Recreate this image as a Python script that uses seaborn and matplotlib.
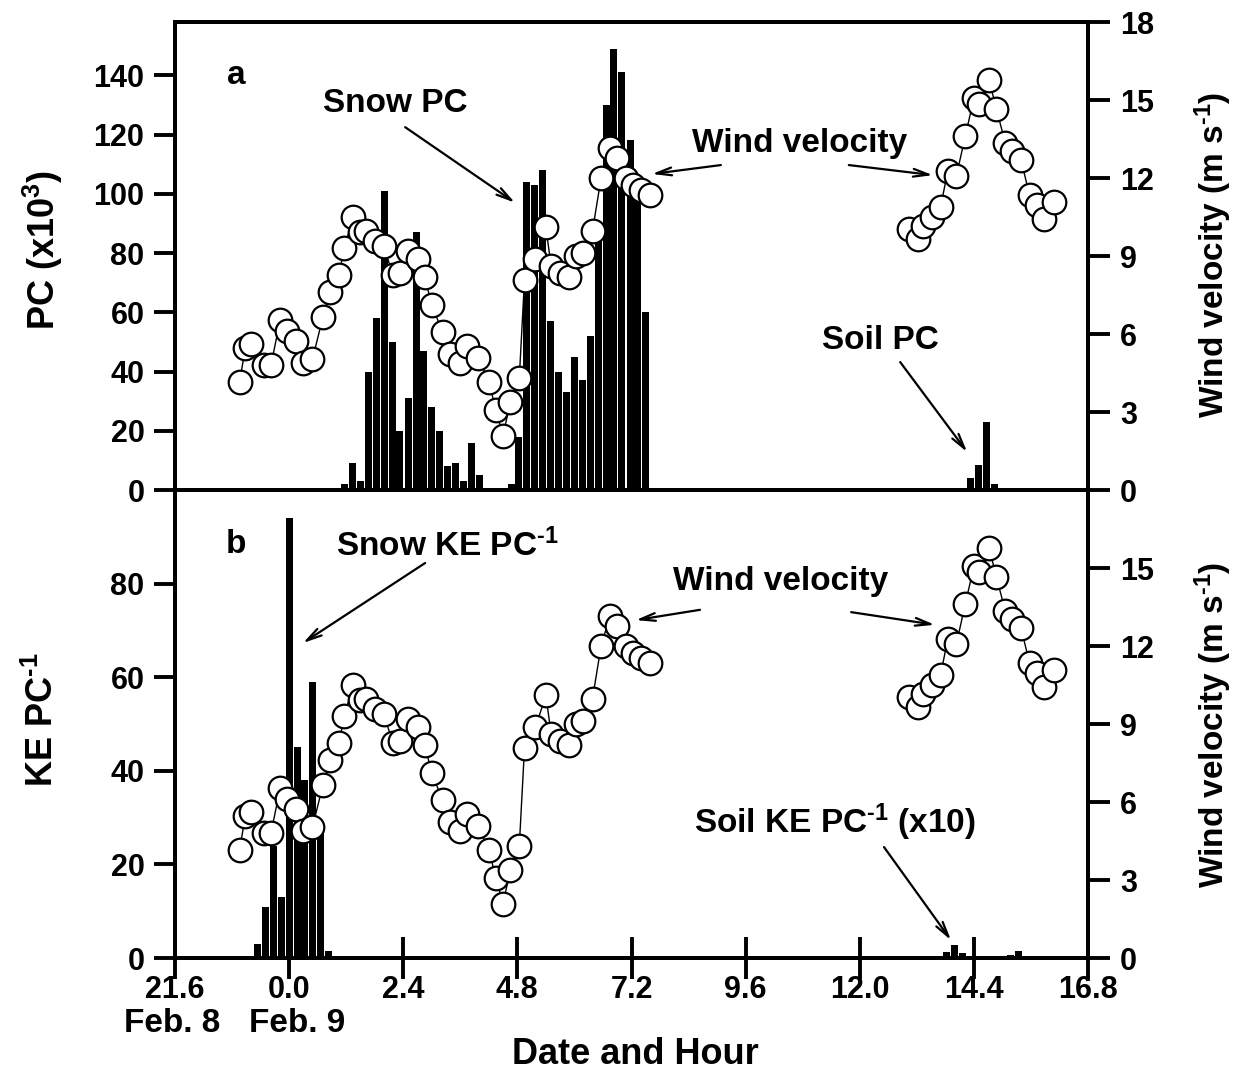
import matplotlib
matplotlib.use("Agg")
import matplotlib.pyplot as plt
import seaborn as sns

# ---- data ----
# panel a: particle counts (x10^3), 10-min bars
snow_pc_hour = [1.17, 1.33, 1.50, 1.67, 1.83, 2.00, 2.17, 2.33, 2.50, 2.67, 2.83, 3.00,
                3.17, 3.33, 3.50, 3.67, 3.83, 4.00, 4.67, 4.83, 5.00, 5.17, 5.33, 5.50,
                5.67, 5.83, 6.00, 6.17, 6.33, 6.50, 6.67, 6.83, 7.00, 7.17, 7.33, 7.50]
snow_pc = [2, 9, 3, 40, 58, 101, 50, 20, 31, 87, 47, 28,
           20, 8, 9, 3, 16, 5, 2, 18, 104, 103, 108, 57,
           40, 33, 45, 37, 52, 90, 130, 149, 141, 118, 100, 60]
soil_pc_hour = [14.33, 14.50, 14.67, 14.83]
soil_pc = [4, 8.5, 23, 2]

# panel b: kinetic energy per particle
snow_ke_hour = [-0.83, -0.67, -0.50, -0.33, -0.17, 0.00, 0.17, 0.33, 0.50, 0.67, 0.83]
snow_ke = [0.5, 3, 11, 24, 13, 94, 45, 38, 59, 27, 1.5]
soil_ke_hour = [13.83, 14.00, 14.17, 15.17, 15.33]
soil_ke = [1.2, 2.8, 1.0, 0.6, 1.6]

# wind velocity (m/s), two measuring periods
wind_hour_1 = [-1.04, -0.92, -0.81, -0.53, -0.38, -0.19, -0.04, 0.15, 0.30, 0.49, 0.71,
               0.86, 1.05, 1.16, 1.35, 1.50, 1.61, 1.80, 1.99, 2.18, 2.33, 2.51, 2.70,
               2.85, 3.00, 3.23, 3.38, 3.60, 3.75, 3.98, 4.20, 4.35, 4.50, 4.65, 4.84,
               4.95, 5.18, 5.40, 5.51, 5.70, 5.89, 6.04, 6.19, 6.38, 6.56, 6.75, 6.90,
               7.09, 7.24, 7.39, 7.58]
wind_1 = [4.17, 5.48, 5.61, 4.82, 4.82, 6.52, 6.13, 5.74, 4.89, 5.02, 6.65,
          7.63, 8.28, 9.32, 10.50, 9.91, 9.97, 9.58, 9.39, 8.28, 8.34, 9.19, 8.87,
          8.21, 7.11, 6.06, 5.22, 4.89, 5.54, 5.08, 4.17, 3.06, 2.09, 3.39, 4.30,
          8.08, 8.87, 10.1, 8.60, 8.34, 8.21, 9.00, 9.13, 9.97, 12.0, 13.17, 12.78,
          12.0, 11.73, 11.54, 11.34]
wind_hour_2 = [13.04, 13.22, 13.34, 13.52, 13.70, 13.85, 14.03, 14.22, 14.40, 14.51,
               14.72, 14.87, 15.06, 15.20, 15.39, 15.57, 15.72, 15.87, 16.08]
wind_2 = [10.04, 9.65, 10.17, 10.5, 10.89, 12.26, 12.06, 13.62, 15.06, 14.86,
          15.78, 14.67, 13.36, 13.04, 12.71, 11.34, 10.95, 10.43, 11.08]

hour_ticks = [-2.4, 0.0, 2.4, 4.8, 7.2, 9.6, 12.0, 14.4, 16.8]
hour_labels = ["21.6", "0.0", "2.4", "4.8", "7.2", "9.6", "12.0", "14.4", "16.8"]

# ---- style ----
sns.set_style("ticks")
plt.rcParams["font.family"] = ["Liberation Sans", "DejaVu Sans"]
plt.rcParams["font.weight"] = "bold"
plt.rcParams["mathtext.fontset"] = "custom"
plt.rcParams["mathtext.rm"] = "Liberation Sans:bold"
plt.rcParams["mathtext.it"] = "Liberation Sans:bold"
plt.rcParams["mathtext.bf"] = "Liberation Sans:bold"
for key in ("text.color", "axes.labelcolor", "xtick.color", "ytick.color", "axes.edgecolor"):
    plt.rcParams[key] = "black"

W, H = 1244, 1075
LW = 2.8
TICK_FS = 22
fig = plt.figure(figsize=(W / 100, H / 100), dpi=100)

left, right = 175, 1088
ax_a = fig.add_axes([left / W, 1 - 490 / H, (right - left) / W, 468 / H])
ax_b = fig.add_axes([left / W, 1 - 958 / H, (right - left) / W, 468 / H])

wind_style = dict(color="black", linewidth=1.0, marker="o", markersize=17,
                  markerfacecolor="white", markeredgecolor="black",
                  markeredgewidth=1.6)


def draw_panel(ax, bar_hour, bar_val, ymax):
    sns.barplot(x=bar_hour, y=bar_val, native_scale=True, orient="x", width=0.92,
                color="black", linewidth=0, errorbar=None, ax=ax)
    ax.set_xlim(-2.4, 16.8)
    ax.set_ylim(0, ymax)
    tw = ax.twinx()
    sns.lineplot(x=wind_hour_1, y=wind_1, ax=tw, **wind_style)
    sns.lineplot(x=wind_hour_2, y=wind_2, ax=tw, **wind_style)
    tw.set_ylim(0, 18)
    for a in (ax, tw):
        for s in a.spines.values():
            s.set_linewidth(LW)
            s.set_color("black")
            s.set_visible(True)
    ax.set_xticks(hour_ticks)
    tw.set_ylabel("")
    ax.set_ylabel("")
    ax.set_xlabel("")
    return tw


tw_a = draw_panel(ax_a, snow_pc_hour + soil_pc_hour, snow_pc + soil_pc, 158)
tw_b = draw_panel(ax_b, snow_ke_hour + soil_ke_hour, snow_ke + soil_ke, 100)

ax_a.set_yticks(range(0, 141, 20))
tw_a.set_yticks(range(0, 19, 3))
ax_b.set_yticks(range(0, 81, 20))
tw_b.set_yticks(range(0, 16, 3))

ax_a.tick_params(axis="x", direction="out", length=15, width=LW, labelbottom=False, top=False)
ax_b.tick_params(axis="x", direction="inout", length=30, width=LW, labelsize=TICK_FS, pad=-3)
ax_b.set_xticklabels(hour_labels)
for a in (ax_a, ax_b):
    a.tick_params(axis="y", direction="out", length=15, width=LW, labelsize=TICK_FS, pad=7)
for a in (tw_a, tw_b):
    a.tick_params(axis="y", direction="out", length=16, width=LW, labelsize=TICK_FS, pad=7)

# ---- annotations ----
arrow = dict(arrowstyle="->, head_length=1.1, head_width=0.28", color="black", lw=1.6,
             shrinkA=0, shrinkB=0)
TXT = 24
INV = "$^{\\text{-1}}$"

ax_a.text(-1.12, 140, "a", fontsize=TXT, fontweight="bold", ha="center", va="center")
ax_a.text(2.23, 130.6, "Snow PC", fontsize=TXT, ha="center", va="center")
ax_a.annotate("", xy=(4.75, 97), xytext=(2.44, 122.5), arrowprops=arrow)
ax_a.text(10.74, 117, "Wind velocity", fontsize=TXT, ha="center", va="center")
ax_a.annotate("", xy=(7.63, 106.7), xytext=(9.08, 109.7), arrowprops=arrow)
ax_a.annotate("", xy=(13.54, 106.3), xytext=(11.77, 109.7), arrowprops=arrow)
ax_a.text(12.43, 50.6, "Soil PC", fontsize=TXT, ha="center", va="center")
ax_a.annotate("", xy=(14.26, 12.8), xytext=(12.85, 43.2), arrowprops=arrow)

ax_b.text(-1.12, 88.3, "b", fontsize=TXT, fontweight="bold", ha="center", va="center")
ax_b.text(3.32, 88, "Snow KE PC" + INV, fontsize=TXT, ha="center", va="center")
ax_b.annotate("", xy=(0.29, 67.3), xytext=(2.86, 84.4), arrowprops=arrow)
ax_b.text(10.34, 80.4, "Wind velocity", fontsize=TXT, ha="center", va="center")
ax_b.annotate("", xy=(7.29, 72.2), xytext=(8.64, 74.4), arrowprops=arrow)
ax_b.annotate("", xy=(13.58, 71.2), xytext=(11.82, 73.9), arrowprops=arrow)
ax_b.text(11.48, 29.1, "Soil KE PC" + INV + " (x10)", fontsize=TXT, ha="center", va="center")
ax_b.annotate("", xy=(13.92, 3.8), xytext=(12.51, 23.7), arrowprops=arrow)

# ---- axis titles ----
LAB = 26
fig.text(43 / W, 1 - 250 / H, "PC (x10$^3$)", rotation=90, fontsize=LAB, ha="center", va="center")
fig.text(43 / W, 1 - 720 / H, "KE PC" + INV, rotation=90, fontsize=LAB, ha="center", va="center")
fig.text(1213 / W, 1 - 255 / H, "Wind velocity (m s" + INV + ")", rotation=90, fontsize=24,
         ha="center", va="center")
fig.text(1213 / W, 1 - 725 / H, "Wind velocity (m s" + INV + ")", rotation=90, fontsize=24,
         ha="center", va="center")
fig.text(172 / W, 1 - 1023 / H, "Feb. 8", fontsize=24, ha="center", va="center")
fig.text(297 / W, 1 - 1023 / H, "Feb. 9", fontsize=24, ha="center", va="center")
fig.text(635 / W, 1 - 1055 / H, "Date and Hour", fontsize=LAB, ha="center", va="center")

fig.savefig("out.png", dpi=100, facecolor="white")
